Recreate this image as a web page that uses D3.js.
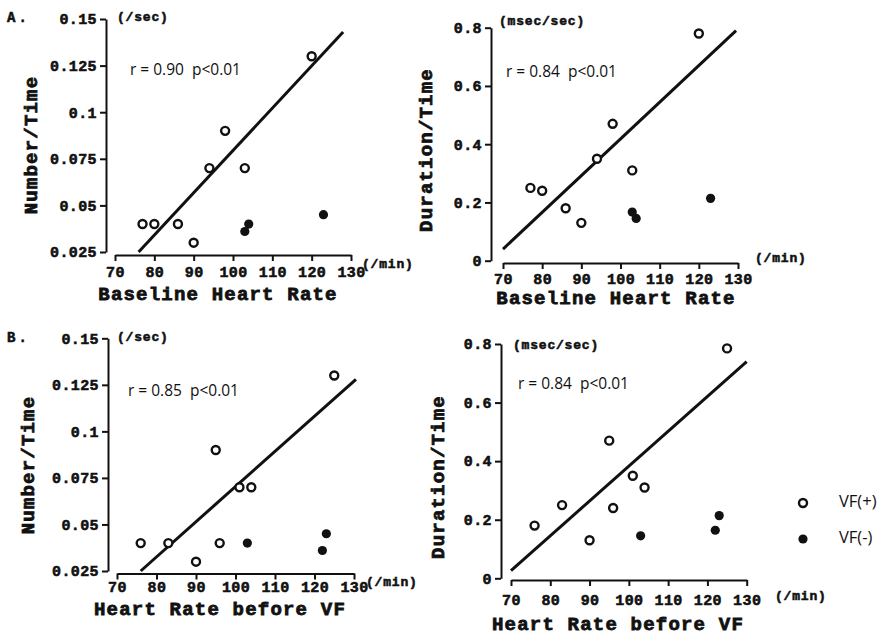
<!DOCTYPE html>
<html>
<head>
<meta charset="utf-8">
<script src="https://cdn.jsdelivr.net/npm/d3@7"></script>
<style>
  body { margin: 0; background: #fff; }
  .mono { font-family: "Liberation Mono", "DejaVu Sans Mono", monospace; font-weight: bold; fill: #111; stroke: #111; stroke-width: 0.55px; }
  .sans { font-family: "Open Sans", "Liberation Sans", sans-serif; fill: #111; white-space: pre; }
</style>
</head>
<body>
<div id="chart"></div>
<script>
// ---- data ----
var xTicks = [70, 80, 90, 100, 110, 120, 130];
var numberTicks = [0.025, 0.05, 0.075, 0.1, 0.125, 0.15];
var numberTickLabels = ["0.025", "0.05", "0.075", "0.1", "0.125", "0.15"];
var durationTicks = [0, 0.2, 0.4, 0.6, 0.8];
var durationTickLabels = ["0", "0.2", "0.4", "0.6", "0.8"];

// A. baseline heart rate
var hrBaselinePos = [77, 80, 86, 90, 94, 98, 103, 120];
var hrBaselineNeg = [103, 104, 123];
var numberAPos = [0.04, 0.04, 0.04, 0.03, 0.07, 0.09, 0.07, 0.13];
var numberANeg = [0.036, 0.04, 0.045];
var durationAPos = [0.25, 0.24, 0.18, 0.13, 0.35, 0.47, 0.31, 0.78];
var durationANeg = [0.167, 0.145, 0.214];

// B. heart rate before VF
var hrBeforeVfPos = [76, 83, 90, 95, 96, 101, 104, 125];
var hrBeforeVfNeg = [103, 122, 123];
var numberBPos = [0.04, 0.04, 0.03, 0.09, 0.04, 0.07, 0.07, 0.13];
var numberBNeg = [0.04, 0.036, 0.045];
var durationBPos = [0.18, 0.25, 0.13, 0.47, 0.24, 0.35, 0.31, 0.785];
var durationBNeg = [0.145, 0.164, 0.214];

// regression line end points [hr, value]
var fitNumberA = [[76, 0.025], [128, 0.143]];
var fitDurationA = [[70, 0.04], [129.5, 0.79]];
var fitNumberB = [[76, 0.025], [130.5, 0.128]];
var fitDurationB = [[70, 0.026], [130, 0.74]];

var annotations = ["r = 0.90  p<0.01", "r = 0.84  p<0.01", "r = 0.85  p<0.01", "r = 0.84  p<0.01"];

var svgWidth = 888;
var svgHeight = 636;

var svg = d3.select("#chart")
    .append("svg")
    .attr("width", svgWidth)
    .attr("height", svgHeight);

svg.append("rect").attr("width", svgWidth).attr("height", svgHeight).attr("fill", "#fff");

function zip(xs, ys) {
    return xs.map(function (d, i) { return [d, ys[i]]; });
}

function drawPanel(p) {
    var g = svg.append("g");

    var x = d3.scaleLinear().domain([70, 130]).range([p.x0, p.x1]);
    var y = d3.scaleLinear().domain(p.yDomain).range([p.y0, p.y1]);

    // y axis
    var yAxis = g.append("g")
        .attr("transform", `translate(${p.yAxisX},0)`)
        .call(d3.axisLeft(y)
            .tickValues(p.yTicks)
            .tickFormat(function (d, i) { return p.yLabels[i]; })
            .tickSize(6)
            .tickSizeOuter(0)
            .tickPadding(3));

    // x axis
    var xAxis = g.append("g")
        .attr("transform", `translate(0,${p.xAxisY})`)
        .call(d3.axisBottom(x)
            .tickValues(xTicks)
            .tickSize(6)
            .tickSizeOuter(0)
            .tickPadding(p.xPad));

    [yAxis, xAxis].forEach(function (a) {
        a.selectAll("path, line").attr("stroke", "#111").attr("stroke-width", 2);
        a.selectAll("text")
            .attr("class", "mono")
            .attr("font-size", "15px")
            .attr("letter-spacing", "0.4px")
            .attr("fill", "#111");
    });

    // regression line
    g.append("path")
        .datum(p.fit)
        .attr("d", d3.line().x(d => x(d[0])).y(d => y(d[1])))
        .attr("stroke", "#111")
        .attr("stroke-width", 3)
        .attr("fill", "none");

    // VF(+) open circles
    g.selectAll(null)
        .data(p.pos)
        .enter()
        .append("circle")
        .attr("cx", d => x(d[0]))
        .attr("cy", d => y(d[1]))
        .attr("r", 4)
        .attr("fill", "#fff")
        .attr("stroke", "#111")
        .attr("stroke-width", 2.4);

    // VF(-) filled circles
    g.selectAll(null)
        .data(p.neg)
        .enter()
        .append("circle")
        .attr("cx", d => x(d[0]))
        .attr("cy", d => y(d[1]))
        .attr("r", 4.6)
        .attr("fill", "#111");

    // y unit
    g.append("text")
        .attr("class", "mono")
        .attr("x", p.yUnit[0])
        .attr("y", p.yUnit[1])
        .attr("font-size", "13px")
        .attr("letter-spacing", "0.8px")
        .text(p.yUnitText);

    // x unit
    g.append("text")
        .attr("class", "mono")
        .attr("x", p.xUnit[0])
        .attr("y", p.xUnit[1])
        .attr("font-size", "13px")
        .attr("letter-spacing", "0.8px")
        .text("(/min)");

    // annotation
    g.append("text")
        .attr("class", "sans")
        .attr("x", p.note[0])
        .attr("y", p.note[1])
        .attr("font-size", "15.5px")
        .attr("dominant-baseline", "middle")
        .text(p.noteText);

    // x title
    g.append("text")
        .attr("class", "mono")
        .attr("x", p.xTitle[0])
        .attr("y", p.xTitle[1])
        .attr("text-anchor", "middle")
        .attr("dominant-baseline", "middle")
        .attr("font-size", "19px")
        .attr("letter-spacing", "1.2px")
        .style("stroke-width", "0.8px")
        .text(p.xTitleText);

    // y title
    g.append("text")
        .attr("class", "mono")
        .attr("transform", `translate(${p.yTitle[0]},${p.yTitle[1]}) rotate(-90)`)
        .attr("text-anchor", "middle")
        .attr("dominant-baseline", "middle")
        .attr("font-size", "19px")
        .attr("letter-spacing", "1.2px")
        .style("stroke-width", "0.8px")
        .text(p.yTitleText);
}

drawPanel({
    x0: 115, x1: 351, y0: 252, y1: 19, yAxisX: 106, xAxisY: 255, xPad: 5,
    yDomain: [0.025, 0.15], yTicks: numberTicks, yLabels: numberTickLabels,
    pos: zip(hrBaselinePos, numberAPos), neg: zip(hrBaselineNeg, numberANeg), fit: fitNumberA,
    yUnit: [117, 21], yUnitText: "(/sec)", xUnit: [362, 268],
    note: [130, 71], noteText: annotations[0],
    xTitle: [218, 295], xTitleText: "Baseline Heart Rate",
    yTitle: [32, 145], yTitleText: "Number/Time"
});

drawPanel({
    x0: 503, x1: 738, y0: 260.7, y1: 27.7, yAxisX: 491, xAxisY: 263, xPad: 4,
    yDomain: [0, 0.8], yTicks: durationTicks, yLabels: durationTickLabels,
    pos: zip(hrBaselinePos, durationAPos), neg: zip(hrBaselineNeg, durationANeg), fit: fitDurationA,
    yUnit: [499, 25], yUnitText: "(msec/sec)", xUnit: [755, 262],
    note: [506, 73], noteText: annotations[1],
    xTitle: [616, 299], xTitleText: "Baseline Heart Rate",
    yTitle: [427, 150], yTitleText: "Duration/Time"
});

drawPanel({
    x0: 117, x1: 354, y0: 571, y1: 338.3, yAxisX: 108, xAxisY: 573.5, xPad: 2,
    yDomain: [0.025, 0.15], yTicks: numberTicks, yLabels: numberTickLabels,
    pos: zip(hrBeforeVfPos, numberBPos), neg: zip(hrBeforeVfNeg, numberBNeg), fit: fitNumberB,
    yUnit: [117, 341], yUnitText: "(/sec)", xUnit: [366, 586],
    note: [128, 392], noteText: annotations[2],
    xTitle: [220, 610], xTitleText: "Heart Rate before VF",
    yTitle: [29, 465], yTitleText: "Number/Time"
});

drawPanel({
    x0: 511, x1: 746.7, y0: 578.3, y1: 344, yAxisX: 501, xAxisY: 580, xPad: 8,
    yDomain: [0, 0.8], yTicks: durationTicks, yLabels: durationTickLabels,
    pos: zip(hrBeforeVfPos, durationBPos), neg: zip(hrBeforeVfNeg, durationBNeg), fit: fitDurationB,
    yUnit: [513, 349], yUnitText: "(msec/sec)", xUnit: [775, 600],
    note: [518, 385], noteText: annotations[3],
    xTitle: [618, 625], xTitleText: "Heart Rate before VF",
    yTitle: [439, 477], yTitleText: "Duration/Time"
});

// panel letters
svg.append("text").attr("class", "mono").attr("x", 7).attr("y", 22)
    .attr("font-size", "14px").attr("letter-spacing", "3px").text("A.");
svg.append("text").attr("class", "mono").attr("x", 7).attr("y", 342)
    .attr("font-size", "14px").attr("letter-spacing", "3px").text("B.");

// legend
var legendItems = [{ label: "VF(+)", open: true }, { label: "VF(-)", open: false }];
var legend = svg.append("g").attr("transform", "translate(803,503)");
legend.selectAll(null)
    .data(legendItems)
    .enter()
    .append("circle")
    .attr("cx", 0)
    .attr("cy", (d, i) => i * 36)
    .attr("r", d => d.open ? 4 : 4.6)
    .attr("fill", d => d.open ? "#fff" : "#111")
    .attr("stroke", d => d.open ? "#111" : "none")
    .attr("stroke-width", 2.4);
legend.selectAll(null)
    .data(legendItems)
    .enter()
    .append("text")
    .attr("class", "sans")
    .attr("x", 36)
    .attr("y", (d, i) => i * 36)
    .attr("dominant-baseline", "middle")
    .attr("font-size", "16.5px")
    .text(d => d.label);
</script>
</body>
</html>
